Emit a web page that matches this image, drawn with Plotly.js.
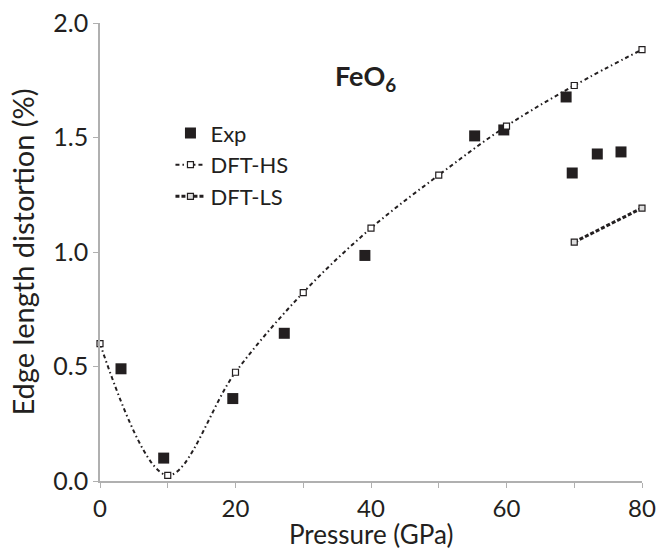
<!DOCTYPE html>
<html><head><meta charset="utf-8">
<script src="https://cdn.plot.ly/plotly-3.0.1.min.js"></script>
<style>html,body{margin:0;padding:0;background:#fff}#chart{width:663px;height:550px}</style>
</head><body><div id="chart"></div>
<script>
const expP = [3.1, 9.4, 19.6, 27.2, 39.1, 55.3, 59.6, 68.8, 69.7, 73.4, 76.9];
const expD = [0.49, 0.10, 0.36, 0.645, 0.985, 1.507, 1.533, 1.677, 1.345, 1.428, 1.437];
const hsP = [0, 10, 20, 30, 40, 50, 60, 70, 80];
const hsD = [0.60, 0.025, 0.475, 0.823, 1.104, 1.336, 1.55, 1.727, 1.884];
const lsP = [70, 80];
const lsD = [1.043, 1.192];
const xTickVals = [0, 20, 40, 60, 80];
const xTickText = ['0', '20', '40', '60', '80'];
const yTickVals = [0, 0.5, 1, 1.5, 2];
const yTickText = ['0.0', '0.5', '1.0', '1.5', '2.0'];

const FONT = 'Lato, "Open Sans", sans-serif';
const traces = [
  {x: expP, y: expD, name: 'Exp', mode: 'markers', type: 'scatter', cliponaxis: false,
   marker: {symbol: 'square', size: 11, color: '#231f20'}},
  {x: hsP, y: hsD, name: 'DFT-HS', mode: 'lines+markers', type: 'scatter', cliponaxis: false,
   line: {shape: 'spline', smoothing: 1, color: '#231f20', width: 2, dash: '4px,3px,1.5px,3px'},
   marker: {symbol: 'square', size: 6, color: '#fff', line: {color: '#231f20', width: 1.2}}},
  {x: lsP, y: lsD, name: 'DFT-LS', mode: 'lines+markers', type: 'scatter', cliponaxis: false,
   line: {color: '#231f20', width: 3, dash: '4px,2px'},
   marker: {symbol: 'square', size: 6, color: '#ddd', line: {color: '#231f20', width: 1.2}}}
];
const layout = {
  width: 663, height: 550,
  margin: {l: 100, r: 21, t: 23, b: 69},
  paper_bgcolor: '#fff', plot_bgcolor: '#fff',
  font: {family: FONT, color: '#231f20', size: 22},
  showlegend: true,
  legend: {x: 0.13, y: 0.805, xanchor: 'left', yanchor: 'top', bgcolor: 'rgba(0,0,0,0)',
    font: {family: FONT, size: 22, color: '#231f20'}, tracegroupgap: 0, itemwidth: 30},
  xaxis: {range: [0, 80], tickvals: xTickVals, ticktext: xTickText, ticks: 'outside', ticklen: 5,
    ticklabelstandoff: 0,
    minor: {tickvals: [10, 30, 50, 70], ticks: 'outside', ticklen: 5, tickcolor: '#b0b0b0', showgrid: false},
    tickcolor: '#b0b0b0', showline: true, linecolor: '#b0b0b0', linewidth: 1.5, showgrid: false, zeroline: false,
    tickfont: {size: 24, family: FONT, color: '#231f20'}},
  yaxis: {range: [0, 2], tickvals: yTickVals, ticktext: yTickText, ticks: 'outside', ticklen: 5,
    tickcolor: '#b0b0b0', showline: true, linecolor: '#b0b0b0', linewidth: 1.5, showgrid: false, zeroline: false,
    tickfont: {size: 25, family: FONT, color: '#231f20'},
    title: {text: 'Edge length distortion (%)', font: {size: 29, family: FONT, color: '#231f20'}, standoff: 10}},
  annotations: [
    {text: '<b>FeO<sub>6</sub></b>', x: 0.43, y: 0.882, xref: 'paper', yref: 'paper',
     xanchor: 'left', yanchor: 'middle', showarrow: false, font: {size: 27, family: FONT, color: '#231f20'}},
    {text: 'Pressure (GPa)', x: 0.5, y: -0.115, xref: 'paper', yref: 'paper',
     xanchor: 'center', yanchor: 'middle', showarrow: false, font: {size: 26, family: FONT, color: '#231f20'}}
  ]
};
Plotly.newPlot('chart', traces, layout, {displayModeBar: false});
</script></body></html>
